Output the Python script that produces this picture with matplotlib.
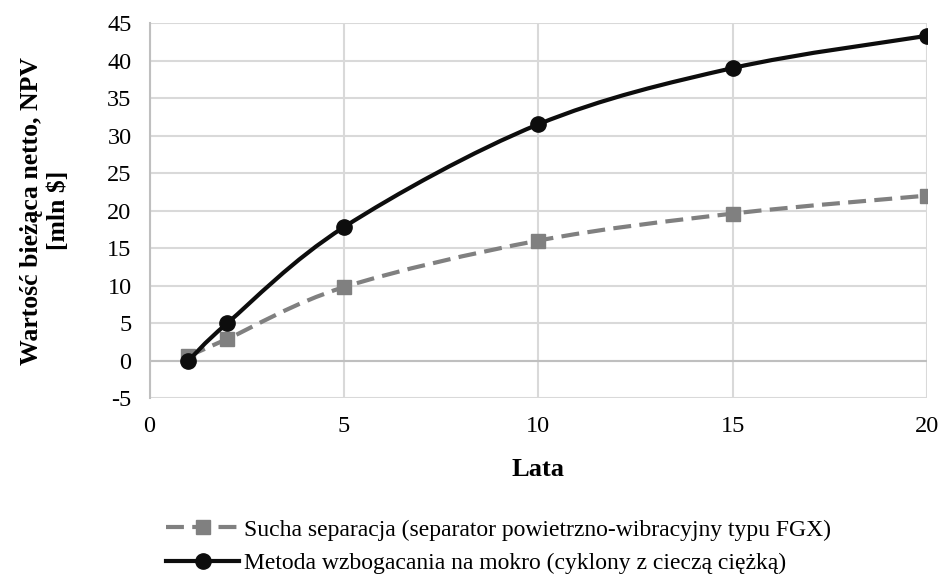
import numpy as np
import matplotlib.pyplot as plt
from matplotlib.path import Path
from matplotlib.patches import PathPatch
from matplotlib.lines import Line2D

plt.rcParams['font.family'] = ['Liberation Serif', 'DejaVu Serif']
plt.rcParams['axes.unicode_minus'] = False

lata = [1, 2, 5, 10, 15, 20]
sucha = [0.6, 2.9, 9.8, 16.0, 19.6, 22.0]
mokra = [0.0, 5.0, 17.8, 31.5, 39.0, 43.3]
y_ticks = [-5, 0, 5, 10, 15, 20, 25, 30, 35, 40, 45]
x_ticks = [0, 5, 10, 15, 20]
label_sucha = "Sucha separacja (separator powietrzno-wibracyjny typu FGX)"
label_mokra = "Metoda wzbogacania na mokro (cyklony z cieczą ciężką)"

dash = (0, (4.3, 2.0))


def smooth_path(x, y):
    # krzywa Beziera jak "wygładzona linia" w Excelu
    pts = np.column_stack([x, y]).astype(float)
    n = len(pts)
    verts = [pts[0]]
    codes = [Path.MOVETO]
    for i in range(n - 1):
        p0 = pts[i - 1] if i > 0 else pts[i]
        p1 = pts[i]
        p2 = pts[i + 1]
        p3 = pts[i + 2] if i + 2 < n else pts[i + 1]
        c1 = p1 + (p2 - p0) / 6.0
        c2 = p2 - (p3 - p1) / 6.0
        verts += [c1, c2, p2]
        codes += [Path.CURVE4] * 3
    return Path(verts, codes)


fig = plt.figure(figsize=(9.41, 5.77), dpi=100)
ax = fig.add_axes([0.159, 0.310, 0.826, 0.650])

ax.add_patch(PathPatch(smooth_path(lata, sucha), fill=False, color='#808080',
                       lw=3, linestyle=dash, zorder=3))
ax.plot(lata, sucha, linestyle='none', marker='s', ms=9.5, color='#808080', zorder=4)
ax.add_patch(PathPatch(smooth_path(lata, mokra), fill=False, color='#0d0d0d',
                       lw=3, zorder=5))
ax.plot(lata, mokra, linestyle='none', marker='o', ms=11, color='#0d0d0d', zorder=6)

ax.set_xlim(0, 20)
ax.set_ylim(-5, 45)
ax.set_xticks(x_ticks)
ax.set_yticks(y_ticks)
ax.grid(True, color='#d9d9d9', lw=1.5)
ax.axhline(0, color='#bfbfbf', lw=1.5, zorder=2)
for s in ['top', 'right', 'bottom']:
    ax.spines[s].set_visible(False)
ax.spines['left'].set_color('#bfbfbf')
ax.spines['left'].set_linewidth(1.5)
ax.tick_params(length=0, labelsize=17.5)
ax.tick_params(axis='x', pad=13)
ax.tick_params(axis='y', pad=13)

ax.set_xlabel("Lata", fontsize=19, fontweight='bold', labelpad=15)
ax.set_ylabel("Wartość bieżąca netto, NPV\n[mln $]", fontsize=18.5,
              fontweight='bold', labelpad=27, linespacing=1.2)

handles = [
    Line2D([], [], color='#808080', lw=3, linestyle=dash, marker='s', ms=9.5),
    Line2D([], [], color='#0d0d0d', lw=3, marker='o', ms=11),
]
fig.legend(handles, [label_sucha, label_mokra], loc='center',
           bbox_to_anchor=(0.53, 0.053), ncol=1, frameon=False,
           fontsize=17, handlelength=3.1, handletextpad=0.2, labelspacing=0.5)

fig.savefig("out.png", dpi=100)
